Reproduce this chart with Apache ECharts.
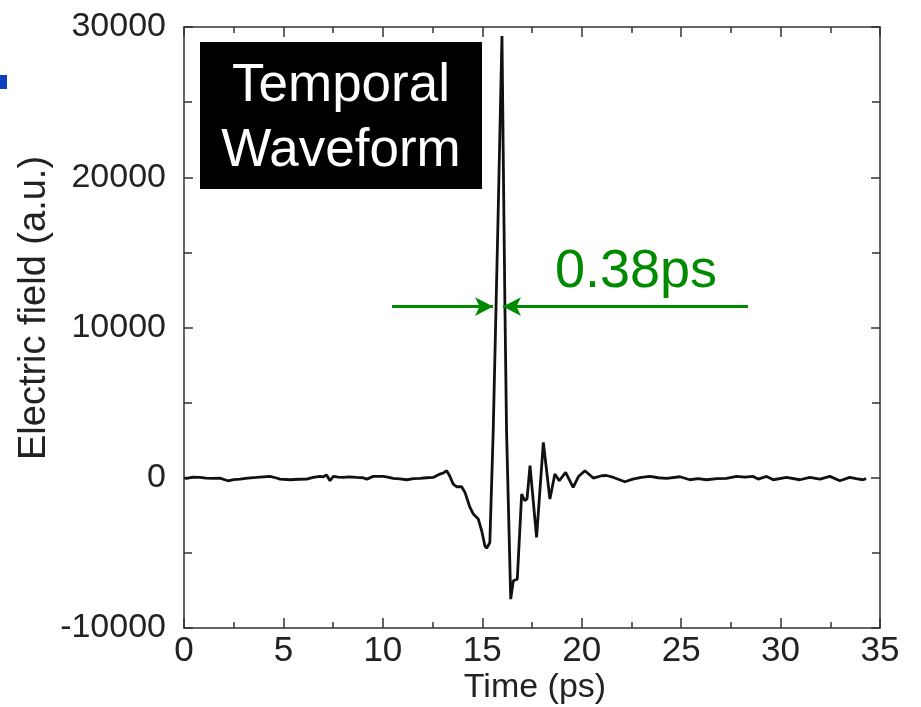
<!DOCTYPE html>
<html><head><meta charset="utf-8">
<script src="https://cdn.jsdelivr.net/npm/echarts@6/dist/echarts.min.js"></script>
<style>html,body{margin:0;padding:0;background:#fff;overflow:hidden}#c{width:921px;height:707px}</style>
</head><body><div id="c"></div>
<script>
// Time (ps)
const time = [0.0,0.13,0.45,0.8,1.1,1.46,1.8,2.21,2.5,2.82,3.2,3.65,4.0,4.32,4.6,4.83,5.33,5.8,6.17,6.5,6.84,7.0,7.17,7.34,7.51,7.75,8.01,8.3,8.68,9.0,9.19,9.52,10.02,10.3,10.52,10.85,11.2,11.55,11.87,12.2,12.53,12.87,13.05,13.21,13.35,13.54,13.71,13.96,14.13,14.38,14.55,14.80,14.97,15.13,15.22,15.38,15.55,15.69,15.79,15.99,16.09,16.14,16.22,16.43,16.56,16.76,16.98,17.14,17.25,17.40,17.48,17.73,18.07,18.40,18.65,18.87,19.19,19.57,19.85,20.16,20.58,21.0,21.25,21.6,22.17,22.57,23.0,23.43,23.85,24.27,24.94,25.44,25.85,26.28,26.8,27.28,27.79,28.2,28.62,28.87,29.30,29.63,30.30,30.97,31.47,31.98,32.48,32.98,33.48,33.8,34.14,34.3];
// Electric field (a.u.)
const field = [0,-45,40,20,-20,-45,-30,-200,-120,-90,-20,20,60,90,0,-90,-133,-100,-90,20,90,60,180,-200,90,40,20,60,20,0,-90,90,90,30,-45,-80,-133,-60,-45,0,20,245,320,466,150,-422,-600,-600,-977,-1976,-2420,-2750,-3530,-4530,-4690,-4310,3130,11300,17100,29400,17100,11300,3130,-8080,-6860,-6750,-1090,-1530,-1400,800,800,-3975,2350,-1420,245,-200,355,-645,100,466,-20,133,150,20,-266,-90,30,90,0,-45,66,-133,-60,-133,-60,-45,90,40,90,-90,90,-133,20,-133,20,-90,90,-200,20,-60,-133,-60];
const xTicks = [0,5,10,15,20,25,30,35];
const yTicks = [-10000,0,10000,20000,30000];
// FWHM annotation (ps) at field level
const fwhmLevel = 11390;
const arrowLeft = [10.46, 15.54];
const arrowRight = [28.36, 16.04];
const fwhmText = '0.38ps';
const boxLines = ['Temporal', 'Waveform'];
const xTitle = 'Time (ps)';
const yTitle = 'Electric field (a.u.)';

const data = time.map((t, i) => [t, field[i]]);
const FONT = '"Liberation Sans", Arial, Helvetica, sans-serif';
const axisCol = '#333';
const textCol = '#222';
const green = '#008a00';

const chart = echarts.init(document.getElementById('c'), null, {renderer: 'canvas'});
const baseX = {
  type: 'value', min: xTicks[0], max: xTicks[xTicks.length-1], interval: 5,
  axisLine: {show: true, onZero: false, lineStyle: {color: axisCol, width: 1.5}},
  axisTick: {show: true, inside: true, length: 10, lineStyle: {color: axisCol, width: 1.5}},
  minorTick: {show: true, splitNumber: 2, length: 6, lineStyle: {color: axisCol, width: 1.5}},
  splitLine: {show: false}
};
const baseY = {
  type: 'value', min: yTicks[0], max: yTicks[yTicks.length-1], interval: 10000,
  axisLine: {show: true, onZero: false, lineStyle: {color: axisCol, width: 1.5}},
  axisTick: {show: true, inside: true, length: 9, lineStyle: {color: axisCol, width: 1.5}},
  minorTick: {show: true, splitNumber: 2, length: 8, lineStyle: {color: axisCol, width: 1.5}},
  splitLine: {show: false}
};
chart.setOption({
  animation: false,
  backgroundColor: '#fff',
  grid: {left: 184, right: 41, top: 27, bottom: 79, containLabel: false, outerBoundsMode: 'none'},
  xAxis: [
    Object.assign({}, baseX, {position: 'bottom',
      axisLabel: {show: true, margin: 6, fontFamily: FONT, fontSize: 35, color: textCol}}),
    Object.assign({}, baseX, {position: 'top', axisLabel: {show: false}})
  ],
  yAxis: [
    Object.assign({}, baseY, {position: 'left',
      axisLabel: {show: true, margin: 18, fontFamily: FONT, fontSize: 34, color: textCol,
        formatter: v => String(v)}}),
    Object.assign({}, baseY, {position: 'right', axisLabel: {show: false}})
  ],
  series: [{
    type: 'line', data: data, xAxisIndex: 0, yAxisIndex: 0,
    showSymbol: false, symbol: 'none', smooth: false,
    lineStyle: {color: '#111', width: 2.8},
    markLine: {
      silent: true, animation: false,
      symbol: ['none', 'arrow'], symbolSize: [14, 18],
      label: {show: false},
      lineStyle: {color: green, width: 3, type: 'solid'},
      data: [
        [{coord: [arrowLeft[0], fwhmLevel]}, {coord: [arrowLeft[1], fwhmLevel]}],
        [{coord: [arrowRight[0], fwhmLevel]}, {coord: [arrowRight[1], fwhmLevel]}]
      ]
    }
  }],
  graphic: [
    {type: 'rect', left: 0, top: 75, shape: {width: 7, height: 14}, style: {fill: '#0a3fc4'}},
    {type: 'rect', left: 200, top: 42, shape: {width: 282, height: 147}, style: {fill: '#000'}},
    {type: 'text', x: 341, y: 86, style: {text: boxLines[0], fill: '#fff', font: '53px ' + FONT, align: 'center', verticalAlign: 'middle'}},
    {type: 'text', x: 341, y: 151, style: {text: boxLines[1], fill: '#fff', font: '53px ' + FONT, align: 'center', verticalAlign: 'middle'}},
    {type: 'text', x: 636, y: 272, style: {text: fwhmText, fill: green, font: '54px ' + FONT, align: 'center', verticalAlign: 'middle'}},
    {type: 'text', x: 35, y: 308, rotation: Math.PI / 2, style: {text: yTitle, fill: textCol, font: '38px ' + FONT, align: 'center', verticalAlign: 'middle'}},
    {type: 'text', x: 535, y: 688, style: {text: xTitle, fill: textCol, font: '34px ' + FONT, align: 'center', verticalAlign: 'middle'}}
  ]
});
</script></body></html>
